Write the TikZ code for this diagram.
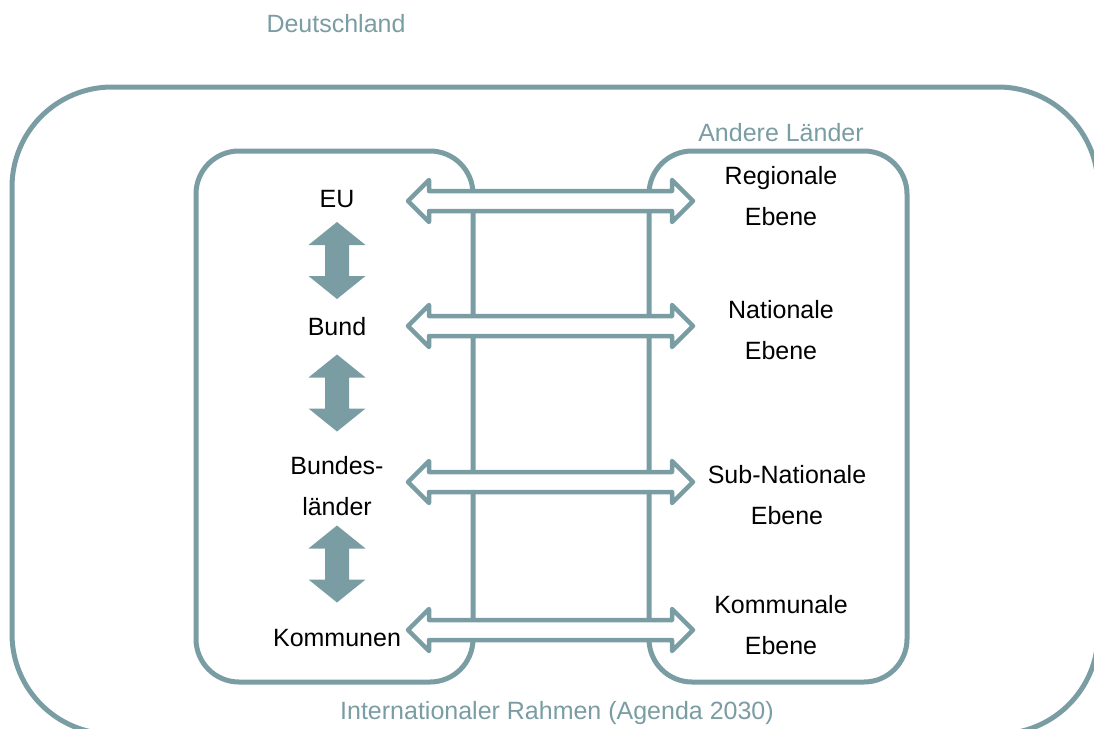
\documentclass[tikz,border=0pt]{standalone}
\usepackage{fontspec}
\setmainfont{Liberation Sans}
\usetikzlibrary{calc}
\definecolor{frame}{HTML}{7A9CA3}
\begin{document}
\begin{tikzpicture}[x=1pt,y=-1pt,
  boxline/.style={draw=frame,line width=5pt},
  harrow/.style={draw=frame,fill=white,line width=4.5pt,line join=round},
  varrow/.style={fill=frame},
  lbl/.style={font=\fontsize{25}{41}\selectfont,text=black,align=center,inner sep=0pt},
  glbl/.style={font=\fontsize{25}{30}\selectfont,text=frame,inner sep=0pt}]
\useasboundingbox (0,0) rectangle (1094,728);
\clip (0,0) rectangle (1094,728);
% outer frame
\draw[boxline,rounded corners=100pt] (12,87) rectangle (1098,734);
% inner boxes
\draw[boxline,rounded corners=43pt] (196,151) rectangle (473,682);
\draw[boxline,rounded corners=43pt] (649,151) rectangle (907,682);
% horizontal double arrows
\foreach \y/\n in {201/a,326/b,482/c,630/d}{
  \coordinate (h\n) at (550.5,\y);
  \draw[harrow] ($(h\n)+(-142.5,0)$) -- ++(21,-21) -- ++(0,11) -- ++(243,0) -- ++(0,-11)
     -- ++(21,21) -- ++(-21,21) -- ++(0,-11) -- ++(-243,0) -- ++(0,11) -- cycle;
}
% vertical arrows
\foreach \y/\n in {260.5/a,393/b,564/c}{
  \coordinate (v\n) at (337,\y);
  \fill[varrow] ($(v\n)+(0,-38.5)$) -- ++(28.5,23) -- ++(-16.5,0) -- ++(0,31) -- ++(16.5,0)
     -- ++(-28.5,23) -- ++(-28.5,-23) -- ++(16.5,0) -- ++(0,-31) -- ++(-16.5,0) -- cycle;
}
% labels
\node[glbl] (de) at (336,24) {Deutschland};
\node[glbl] (al) at (781,133) {Andere Länder};
\node[glbl] (ir) at (557,713) {Internationaler Rahmen (Agenda 2030)};
\node[lbl] (eu) at (337,199) {EU};
\node[lbl] (bund) at (337,327) {Bund};
\node[lbl] (bl) at (337,486) {Bundes-\\länder};
\node[lbl] (ko) at (337,638) {Kommunen};
\node[lbl] (re) at (781,196) {Regionale\\Ebene};
\node[lbl] (ne) at (781,330) {Nationale\\Ebene};
\node[lbl] (sne) at (787,495) {Sub-Nationale\\Ebene};
\node[lbl] (ke) at (781,625) {Kommunale\\Ebene};
\end{tikzpicture}
\end{document}
